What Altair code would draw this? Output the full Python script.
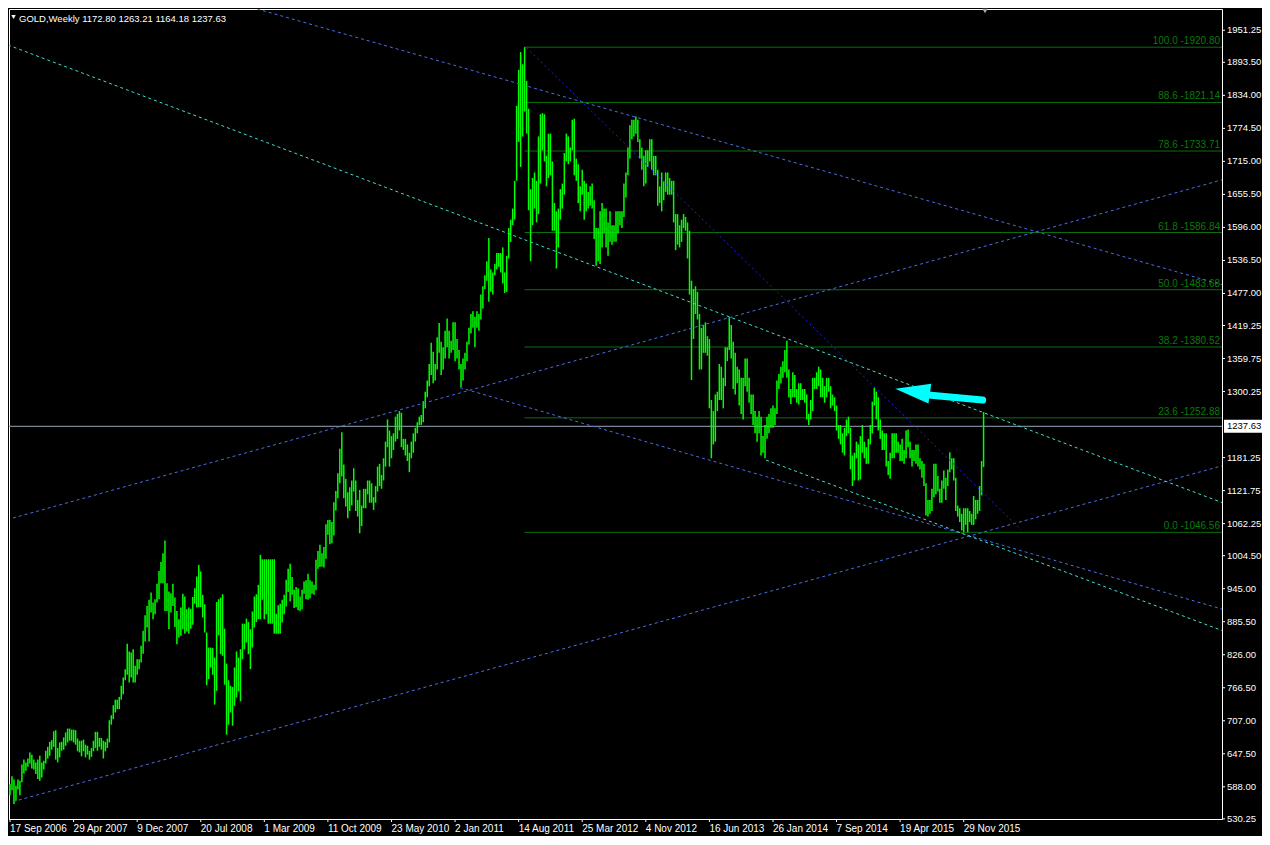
import altair as alt
import pandas as pd

# ---------------- weekly bars (low, high); first week starts 17 Sep 2006 ----------------
gold_2006 = [(573,593),(582,607),(557,601),(563,590),(583,601),(573,599),(596,628),(612,637),(617,632),(624,639),
             (630,650),(621,646),(619,637),(611,632),(602,637),(599,644)]
gold_2007 = [(605,632),(619,635),(630,653),(639,660),(644,669),(655,672),(660,688),(637,690),(632,658),(641,668),
             (653,669),(655,677),(662,686),(668,693),(671,693),(671,691),(668,691),(664,690),(652,675),(650,671),
             (643,671),(652,673),(641,664),(646,662),(637,653),(642,658),(652,671),(658,687),(653,687),(660,676),
             (655,676),(639,671),(652,669),(658,675),(668,708),(700,717),(710,735),(722,745),(728,745),(728,750),
             (745,770),(755,785),(780,800),(790,846),(776,832),(785,830),(776,836),(776,806),(790,818),(800,818),
             (812,842),(828,869)]
gold_2008 = [(850,897),(875,914),(850,925),(902,938),(890,920),(899,926),(920,954),(926,977),(955,993),(955,1009),
             (905,1032),(905,955),(872,940),(902,937),(914,954),(876,929),(845,905),(857,890),(860,911),(872,936),
             (864,931),(868,908),(864,911),(873,909),(880,930),(918,946),(911,967),(912,988),(912,976),(893,934),
             (866,917),(771,866),(782,839),(803,839),(790,838),(736,821),(761,921),(861,926),(827,929),(824,935),
             (772,873),(682,810),(700,780),(722,770),(698,768),(734,803),(749,832),(760,821),(742,836),(818,882),
             (836,882),(848,891)]
gold_2009 = [(827,885),(800,872),(839,904),(875,931),(885,935),(890,952),(890,1006),(925,998),(890,998),(899,998),
             (882,998),(882,998),(882,998),(864,998),(864,900),(864,915),(864,918),(884,925),(899,934),(913,961),
             (939,981),(922,990),(934,966),(910,943),(912,948),(906,946),(905,931),(908,943),(936,958),(926,960),
             (925,972),(928,960),(936,958),(934,952),(942,997),(981,1013),(984,1024),(985,1009),(983,1020),(999,1061),
             (1042,1069),(1025,1069),(1027,1065),(1041,1101),(1086,1121),(1108,1153),(1135,1197),(1147,1227),(1108,1169),(1093,1143),
             (1072,1119),(1085,1128)]
gold_2010 = [(1095,1140),(1120,1162),(1085,1140),(1075,1105),(1045,1123),(1058,1095),(1090,1125),(1090,1125),(1115,1140),(1100,1140),
             (1100,1135),(1087,1110),(1100,1130),(1120,1165),(1130,1170),(1125,1150),(1140,1180),(1165,1210),(1200,1250),(1165,1230),
             (1180,1220),(1195,1225),(1210,1255),(1215,1260),(1230,1265),(1200,1262),(1195,1215),(1185,1215),(1175,1205),(1155,1190),
             (1180,1210),(1190,1225),(1210,1235),(1225,1245),(1240,1255),(1240,1258),(1245,1283),(1270,1300),(1290,1320),(1310,1350),
             (1330,1388),(1315,1372),(1320,1350),(1340,1398),(1370,1424),(1330,1390),(1340,1380),(1360,1410),(1380,1432),(1360,1410),
             (1370,1392),(1375,1425)]
gold_2011 = [(1355,1425),(1360,1395),(1340,1375),(1308,1350),(1320,1360),(1340,1370),(1355,1390),(1385,1415),(1405,1440),(1415,1445),
             (1380,1435),(1415,1445),(1410,1440),(1430,1475),(1450,1490),(1485,1510),(1500,1535),(1462,1577),(1480,1520),(1475,1515),
             (1510,1530),(1520,1550),(1525,1550),(1515,1550),(1495,1560),(1478,1515),(1480,1545),(1540,1595),(1570,1610),(1600,1630),
             (1610,1680),(1680,1815),(1750,1880),(1705,1912),(1760,1890),(1805,1920.8),(1765,1860),(1627,1810),(1535,1665),(1600,1685),
             (1630,1695),(1605,1680),(1620,1760),(1675,1800),(1735,1802),(1715,1800),(1670,1725),(1685,1765),(1690,1765),(1590,1715),
             (1590,1640),(1522,1625)]
gold_2012 = [(1560,1630),(1610,1665),(1630,1675),(1655,1730),(1715,1765),(1710,1760),(1715,1740),(1735,1790),(1690,1792),(1680,1720),
             (1640,1710),(1625,1670),(1655,1700),(1610,1680),(1625,1675),(1630,1660),(1635,1670),(1630,1675),(1575,1645),(1527,1595),
             (1535,1595),(1530,1625),(1560,1640),(1585,1630),(1560,1630),(1545,1605),(1570,1625),(1565,1600),(1570,1600),(1570,1625),
             (1585,1625),(1600,1625),(1595,1625),(1615,1675),(1650,1695),(1690,1740),(1720,1780),(1755,1790),(1760,1790),(1765,1796),
             (1750,1790),(1720,1755),(1700,1740),(1670,1725),(1675,1735),(1705,1735),(1715,1755),(1700,1755),(1690,1725),(1690,1725),
             (1635,1700),(1640,1670),(1625,1695)]
gold_2013 = [(1645,1680),(1660,1695),(1655,1695),(1655,1685),(1655,1680),(1605,1680),(1555,1620),(1565,1620),(1560,1600),(1570,1610),
             (1595,1620),(1590,1615),(1540,1605),(1475,1590),(1321,1500),(1395,1485),(1440,1490),(1430,1480),(1340,1440),(1340,1415),
             (1370,1420),(1370,1425),(1365,1400),(1270,1395),(1180,1285),(1205,1265),(1210,1295),(1265,1300),(1285,1350),(1285,1345),
             (1270,1325),(1310,1380),(1355,1380),(1375,1434),(1360,1420),(1305,1390),(1295,1370),(1315,1345),(1275,1340),(1260,1325),
             (1250,1325),(1310,1360),(1300,1360),(1280,1325),(1260,1295),(1240,1295),(1225,1265),(1210,1255),(1225,1265),(1185,1255),
             (1190,1220),(1180,1240)]
gold_2014 = [(1215,1255),(1225,1260),(1235,1270),(1235,1275),(1240,1270),(1260,1320),(1305,1332),(1315,1345),(1325,1355),(1335,1375),
             (1325,1392),(1290,1340),(1278,1305),(1290,1335),(1290,1330),(1280,1305),(1277,1315),(1285,1315),(1285,1305),(1280,1305),
             (1250,1295),(1240,1260),(1250,1285),(1265,1325),(1305,1325),(1305,1335),(1310,1345),(1290,1340),(1290,1325),(1280,1310),
             (1290,1325),(1300,1325),(1270,1310),(1275,1295),(1265,1290),(1230,1275),(1215,1240),(1205,1240),(1190,1225),(1185,1235),
             (1220,1250),(1225,1255),(1160,1235),(1130,1185),(1140,1190),(1180,1210),(1140,1205),(1142,1220),(1190,1240),(1180,1210),
             (1170,1200),(1170,1215)]
gold_2015 = [(1205,1240),(1225,1282),(1275,1307),(1250,1300),(1230,1290),(1215,1250),(1195,1230),(1195,1225),(1165,1225),(1150,1175),
             (1143,1190),(1180,1225),(1180,1225),(1190,1225),(1190,1210),(1175,1205),(1175,1215),(1170,1195),(1180,1230),(1200,1232),
             (1180,1210),(1165,1195),(1175,1195),(1170,1205),(1165,1205),(1160,1180),(1145,1175),(1130,1170),(1077,1135),(1075,1105),
             (1080,1105),(1085,1125),(1110,1170),(1115,1170),(1120,1148),(1100,1125),(1100,1140),(1125,1158),(1105,1145),(1130,1160),
             (1155,1191),(1160,1180),(1140,1180),(1085,1145),(1075,1095),(1065,1090),(1050,1080),(1046.6,1090),(1060,1090),(1046.56,1090),
             (1065,1085),(1060,1080)]
gold_2016 = [(1060,1112),(1070,1105),(1080,1105),(1085,1130),(1113,1175),(1164.18,1263.21)]

# last bar O H L C shown in the header
last_ohlc = [1172.80, 1263.21, 1164.18, 1237.63]
symbol_name = "GOLD,Weekly"

# x axis: a label every 32 weeks
date_labels = ["17 Sep 2006", "29 Apr 2007", "9 Dec 2007", "20 Jul 2008", "1 Mar 2009", "11 Oct 2009",
               "23 May 2010", "2 Jan 2011", "14 Aug 2011", "25 Mar 2012", "4 Nov 2012", "16 Jun 2013",
               "26 Jan 2014", "7 Sep 2014", "19 Apr 2015", "29 Nov 2015"]
date_label_weeks = [0, 32, 64, 96, 128, 160, 192, 224, 256, 288, 320, 352, 384, 416, 448, 480]

# y axis price labels
price_ticks = [1951.25, 1893.50, 1834.00, 1774.50, 1715.00, 1655.50, 1596.00, 1536.50, 1477.00, 1419.25,
               1359.75, 1300.25, 1181.25, 1121.75, 1062.25, 1004.50, 945.00, 885.50, 826.00, 766.50,
               707.00, 647.50, 588.00, 530.25]

# Fibonacci retracement (from the Sep 2011 high to the Dec 2015 low)
fib_ratios = [100.0, 88.6, 78.6, 61.8, 50.0, 38.2, 23.6, 0.0]
fib_prices = [1920.80, 1821.14, 1733.71, 1586.84, 1483.68, 1380.52, 1252.88, 1046.56]
fib_start_week = 259
fib_end_week = 620

# trend lines: anchor points (week, price)
trend_names = ["upper_fall", "mid_rise", "low_rise", "low_fall", "steep_fall", "cyan_upper", "cyan_lower"]
trend_style = ["royal", "royal", "royal", "royal", "blue", "cyan", "cyan"]
trend_w0 = [121.5, 1.5, 1.5, 226.5, 260.0, -1.0, 380.5]
trend_p0 = [1992.6, 1072.4, 561.2, 1307.3, 1919.5, 1924.7, 1176.8]
trend_w1 = [619.0, 619.0, 619.0, 619.0, 509.0, 619.0, 619.0]
trend_p1 = [1483.5, 1690.8, 1175.4, 898.9, 1050.6, 1088.1, 857.6]

# hand-drawn arrow (week, price)
arrow_shaft_weeks = [463.5, 489.5]
arrow_shaft_prices = [1293.5, 1284.9]
arrow_head_week = 454.25
arrow_head_price = 1301.1

# ---------------- tables ----------------
rows = []
w = 0
for year in [gold_2006, gold_2007, gold_2008, gold_2009, gold_2010, gold_2011,
             gold_2012, gold_2013, gold_2014, gold_2015, gold_2016]:
    for lo, hi in year:
        rows.append({"week": w, "low": lo, "high": hi})
        w += 1
bars = pd.DataFrame(rows)

fib = pd.DataFrame({
    "price": fib_prices,
    "label": [f"{r:.1f} -{p:.2f}" for r, p in zip(fib_ratios, fib_prices)],
    "w0": [fib_start_week] * len(fib_prices),
    "w1": [fib_end_week] * len(fib_prices),
})

trend_rows = []
for n, s, a, b, c, d in zip(trend_names, trend_style, trend_w0, trend_p0, trend_w1, trend_p1):
    trend_rows.append({"name": n, "style": s, "week": a, "price": b})
    trend_rows.append({"name": n, "style": s, "week": c, "price": d})
trend = pd.DataFrame(trend_rows)

shaft = pd.DataFrame({"week": arrow_shaft_weeks, "price": arrow_shaft_prices})
head = pd.DataFrame({"week": [arrow_head_week], "price": [arrow_head_price]})
last = pd.DataFrame({"price": [last_ohlc[3]], "label": [f"{last_ohlc[3]:.2f}"]})
header = pd.DataFrame({"t": [symbol_name + "  " + " ".join(f"{v:.2f}" for v in last_ohlc)]})
xticks = pd.DataFrame({"week": date_label_weeks, "label": date_labels})
yticks = pd.DataFrame({"price": price_ticks, "label": [f"{p:.2f}" for p in price_ticks]})

# ---------------- scales ----------------
W, H = 1213, 810
FONT = "Liberation Sans"
xs = alt.Scale(domain=[-0.5, 610.0], nice=False, zero=False)
ys = alt.Scale(domain=[530.0, 1989.6], nice=False, zero=False)
X = alt.X("week:Q", scale=xs, axis=None)
Y = alt.Y("price:Q", scale=ys, axis=None)

price_line = alt.Chart(last).mark_rule(color="#9aa6b6", strokeWidth=1).encode(y=Y)

fib_lines = alt.Chart(fib).mark_rule(color="#087008", strokeWidth=1, clip=True).encode(
    x=alt.X("w0:Q", scale=xs, axis=None), x2="w1:Q", y=Y)

bar_layer = alt.Chart(bars).mark_rule(color="#00ff00", strokeWidth=1.5).encode(
    x=X, y=alt.Y("low:Q", scale=ys, axis=None), y2="high:Q")

fib_text = alt.Chart(fib).mark_text(align="right", baseline="bottom", dy=-1, color="#0a7a0a",
                                    font=FONT, fontSize=10).encode(
    x=alt.value(W - 2), y=Y, text="label:N")


def trend_layer(style, color, dash):
    return alt.Chart(trend).transform_filter(alt.datum.style == style).mark_line(
        color=color, strokeWidth=1, strokeDash=dash, clip=True).encode(
        x=X, y=Y, detail="name:N")


royal = trend_layer("royal", "#4a6ee8", [3, 3])
blue = trend_layer("blue", "#1e1eff", [2, 3])
cyan = trend_layer("cyan", "#40e0d0", [3, 3])

arrow_shaft = alt.Chart(shaft).mark_line(color="#00ffff", strokeWidth=7, strokeCap="round").encode(x=X, y=Y)
arrow_head = alt.Chart(head).mark_point(shape="M -1 0 L 1 -0.57 L 1 0.57 Z", filled=True,
                                        size=1225, angle=8, color="#00ffff", opacity=1).encode(x=X, y=Y)

# axes drawn as marks (bottom dates, right-hand prices)
x_tick_marks = alt.Chart(xticks).mark_rule(color="white", strokeWidth=1).encode(
    x=X, y=alt.value(H), y2=alt.value(H + 3))
x_tick_text = alt.Chart(xticks).mark_text(align="left", baseline="top", color="white",
                                          font=FONT, fontSize=10).encode(
    x=X, y=alt.value(H + 5), text="label:N")
y_tick_marks = alt.Chart(yticks).mark_rule(color="white", strokeWidth=1).encode(
    y=Y, x=alt.value(W), x2=alt.value(W + 3))
y_tick_text = alt.Chart(yticks).mark_text(align="left", baseline="middle", color="white",
                                          font=FONT, fontSize=9.5).encode(
    y=Y, x=alt.value(W + 5), text="label:N")

last_box = alt.Chart(last).mark_tick(orient="horizontal", size=38, thickness=13, color="white",
                                     opacity=1).encode(x=alt.value(W + 21), y=Y)
last_text = alt.Chart(last).mark_text(align="left", baseline="middle", color="black",
                                      font=FONT, fontSize=9.5).encode(
    x=alt.value(W + 5), y=Y, text="label:N")

header_tri = alt.Chart(header).mark_text(text="▼", color="white", fontSize=7, align="left",
                                         baseline="middle").encode(x=alt.value(1), y=alt.value(8))
header_text = alt.Chart(header).mark_text(align="left", baseline="alphabetic", color="white",
                                          font=FONT, fontSize=9.5).encode(
    x=alt.value(10), y=alt.value(13), text="t:N")
shift_mark = alt.Chart(header).mark_point(shape="triangle-down", filled=True, color="#a8a8a8",
                                          size=30, opacity=1).encode(x=alt.value(976), y=alt.value(2))

chart = alt.layer(
    price_line, fib_lines, bar_layer, fib_text, royal, blue, cyan,
    arrow_shaft, arrow_head, x_tick_marks, x_tick_text, y_tick_marks, y_tick_text,
    last_box, last_text, header_tri, header_text, shift_mark
).properties(
    width=W, height=H,
    autosize=alt.AutoSizeParams(type="none"),
    padding={"left": 1, "top": 1, "right": 40, "bottom": 17},
    background="black",
).configure_view(stroke="white", strokeWidth=1, fill="black")

chart.save("out.html", embed_options={"renderer": "svg", "actions": False})
